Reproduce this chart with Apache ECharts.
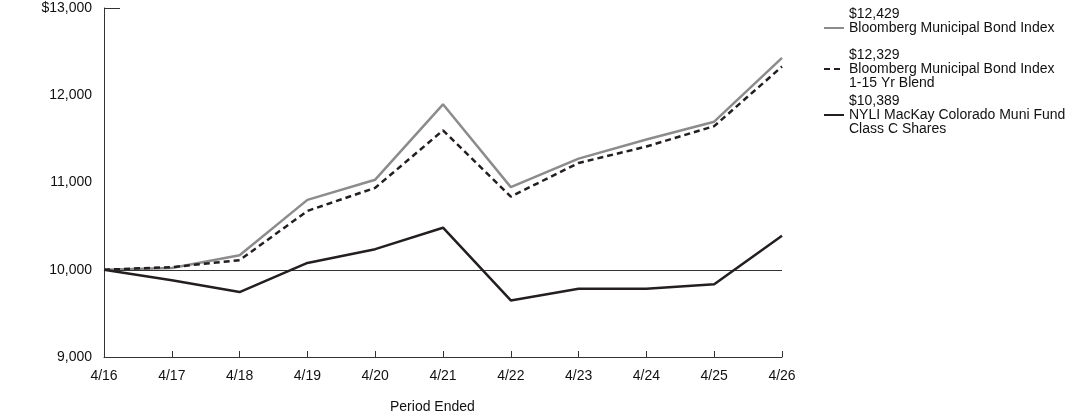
<!DOCTYPE html>
<html>
<head>
<meta charset="utf-8">
<script src="https://cdn.jsdelivr.net/npm/echarts@6/dist/echarts.min.js"></script>
<style>
html,body{margin:0;padding:0;background:#fff;}
#main{width:1092px;height:417px;}
</style>
</head>
<body>
<div id="main"></div>
<script>
// 横轴期间
var periods = ['4/16','4/17','4/18','4/19','4/20','4/21','4/22','4/23','4/24','4/25','4/26'];

// 各系列数值
var muniIndex = [10000,10020,10167,10801,11032,11896,10947,11274,11493,11697,12429];
var blendIndex = [10000,10030,10110,10674,10939,11597,10839,11224,11412,11646,12329];
var fundC = [10000,9879,9744,10078,10236,10482,9648,9783,9783,9833,10389];

var names = ['Bloomberg Municipal Bond Index','Bloomberg Municipal Bond Index\n1-15 Yr Blend','NYLI MacKay Colorado Muni Fund\nClass C Shares'];
var endLabels = ['$12,429','$12,329','$10,389'];

var yTicks = [9000,10000,11000,12000,13000];
var font = 'Arial, "Liberation Sans", sans-serif';
var legendTops = [7,48,94];

var myChart = echarts.init(document.getElementById('main'));

// 每个图例单独放，图标对齐第二行
var legends = [];
for(var i=0;i<names.length;i++){
	legends.push({
		orient:'vertical',
		left:823,top:legendTops[i],
		padding:0,
		itemWidth:20,itemHeight:4,
		itemStyle:{opacity:0},
		data:[names[i]],
		formatter:function(name){
			var k = names.indexOf(name);
			var s = endLabels[k]+'\n'+name;
			if(k===0) s += '\n ';
			return s;
		},
		textStyle:{fontSize:14,color:'#111',lineHeight:14,fontFamily:font}
	});
}

var option = {
	animation:false,
	textStyle:{fontFamily:font},
	grid:{left:104,right:310,top:8,bottom:60},
	title:{
		text:'Period Ended',
		left:390,top:400,padding:0,
		textStyle:{fontSize:14,fontWeight:'normal',color:'#111',fontFamily:font}
	},
	legend:legends,
	xAxis:{
		type:'category',
		data:periods,
		boundaryGap:false,
		axisLine:{lineStyle:{color:'#333',width:1}},
		axisTick:{inside:true,length:6,lineStyle:{color:'#333'}},
		axisLabel:{color:'#111',fontSize:14,margin:12,fontFamily:font},
		splitLine:{show:false}
	},
	yAxis:{
		type:'value',
		min:9000,max:13000,interval:1000,
		axisLine:{show:true,lineStyle:{color:'#333',width:1}},
		axisTick:{show:false},
		splitLine:{show:false},
		axisLabel:{
			color:'#111',fontSize:14,margin:12,fontFamily:font,
			formatter:function(v){
				var s = v.toLocaleString('en-US');
				return v===yTicks[yTicks.length-1] ? '$'+s : s;
			}
		}
	},
	graphic:[{
		type:'line',
		shape:{x1:104,y1:8.5,x2:120,y2:8.5},
		style:{stroke:'#333',lineWidth:1}
	}],
	series:[{
		name:names[0],
		type:'line',
		data:muniIndex,
		symbol:'none',
		lineStyle:{color:'#8c8c8c',width:2.5},
		itemStyle:{color:'#8c8c8c'},
		z:3
	},{
		name:names[1],
		type:'line',
		data:blendIndex,
		symbol:'none',
		lineStyle:{color:'#231f20',width:2.5,type:[6,4]},
		itemStyle:{color:'#231f20'},
		z:4
	},{
		name:names[2],
		type:'line',
		data:fundC,
		symbol:'none',
		lineStyle:{color:'#231f20',width:2.5},
		itemStyle:{color:'#231f20'},
		z:5,
		markLine:{
			silent:true,
			symbol:'none',
			label:{show:false},
			lineStyle:{color:'#333',width:1,type:'solid'},
			data:[{yAxis:10000}]
		}
	}]
};

myChart.setOption(option);
</script>
</body>
</html>
